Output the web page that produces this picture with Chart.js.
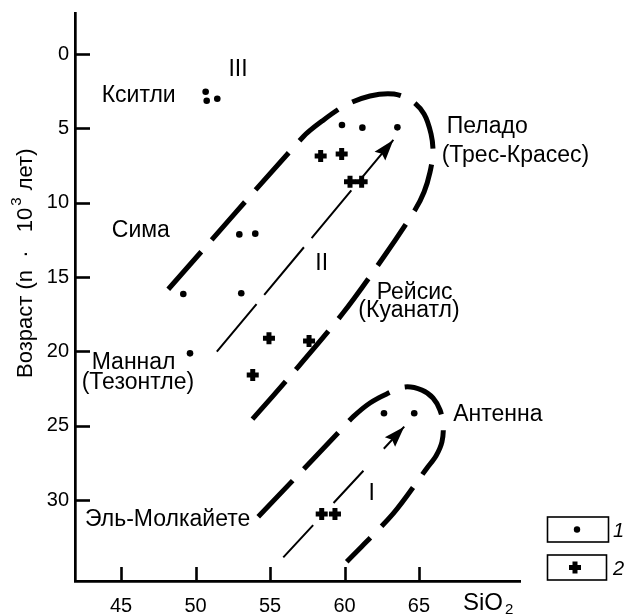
<!DOCTYPE html>
<html>
<head>
<meta charset="utf-8">
<script src="https://cdn.jsdelivr.net/npm/chart.js@4.4.1/dist/chart.umd.min.js"></script>
<style>
html,body{margin:0;padding:0;background:#fff;}
#wrap{width:628px;height:614px;}
canvas{display:block;}
</style>
</head>
<body>
<div id="wrap"><canvas id="c" width="628" height="614"></canvas></div>
<script>
// ---- data ----
const xTickValues = [45, 50, 55, 60, 65];
const yTickValues = [0, 5, 10, 15, 20, 25, 30];

// series 1 (dots)
const group1SiO2 = [50.68, 50.75, 51.46, 52.94, 54.01, 49.18, 53.07, 49.63, 59.83, 61.20, 63.55, 62.65, 64.68];
const group1Age  = [2.54, 3.14, 3.01, 12.13, 12.08, 16.14, 16.09, 20.13, 4.77, 4.95, 4.93, 24.16, 24.16];

// series 2 (crosses)
const group2SiO2 = [58.40, 59.81, 60.37, 61.15, 54.93, 57.62, 53.84, 58.47, 59.36];
const group2Age  = [6.86, 6.73, 8.59, 8.59, 19.12, 19.30, 21.59, 30.93, 30.93];

// envelope II (dashed outline)
const envelopeIISiO2 = [48.17, 57.23, 58.49, 60.03, 61.71, 63.32, 64.53, 65.34, 65.81, 65.94, 65.74, 65.34, 64.73, 62.58, 59.90, 56.54, 53.77];
const envelopeIIAge  = [15.82, 5.56, 4.51, 3.46, 2.82, 2.69, 3.16, 4.03, 5.38, 6.59, 7.94, 9.28, 10.49, 13.72, 17.42, 21.45, 24.61];

// envelope I (dashed outline)
const envelopeISiO2 = [54.21, 59.56, 60.59, 61.71, 62.83, 64.06, 65.20, 65.94, 66.41, 66.63, 66.54, 66.14, 65.54, 63.28, 60.15];
const envelopeIAge  = [31.12, 25.49, 24.39, 23.47, 22.86, 22.39, 22.60, 23.13, 23.94, 24.95, 26.09, 27.03, 27.84, 30.89, 34.14];

// trend arrows
const trendIISiO2 = [51.43, 63.28];
const trendIIAge  = [20.02, 5.78];
const trendISiO2  = [55.89, 64.01];
const trendIAge   = [33.85, 25.06];

// text
const placeNames = ['III', 'Кситли', 'Сима', 'Маннал', '(Тезонтле)', 'Эль-Молкайете', 'II',
                    'Пеладо', '(Трес-Красес)', 'Рейсис', '(Куанатл)', 'Антенна', 'I'];
const seriesNames = ['1', '2'];
const xTitle = 'SiO';
const xTitleSub = '2';
const yTitleMain = 'Возраст (n  ·   10';
const yTitleSup = '3';
const yTitleEnd = ' лет)';

// ---- layout (positions of annotations, in axis units) ----
const placeAnchors = [
  [52.85, 1.48, 'center'], [43.70, 3.25, 'left'], [44.38, 12.33, 'left'], [43.03, 21.20, 'left'],
  [42.36, 22.55, 'left'], [42.58, 31.74, 'left'], [58.47, 14.53, 'center'], [66.86, 5.33, 'left'],
  [66.52, 7.24, 'left'], [62.16, 16.50, 'left'], [60.93, 17.71, 'left'], [67.30, 24.68, 'left'],
  [61.83, 29.99, 'center']
];

const FONT = '"Liberation Sans", Arial, sans-serif';
const pts = (xs, ys) => xs.map((x, i) => ({ x: x, y: ys[i] }));

const overlay = {
  id: 'overlay',
  afterDraw(chart) {
    const ctx = chart.ctx;
    const xs = chart.scales.x, ys = chart.scales.y;
    const area = chart.chartArea;
    ctx.save();
    ctx.fillStyle = '#000';
    ctx.strokeStyle = '#000';
    // inward tick marks
    ctx.lineWidth = 2.6;
    ctx.lineCap = 'butt';
    yTickValues.forEach(v => {
      const py = Math.round(ys.getPixelForValue(v)) + 0.5;
      ctx.beginPath(); ctx.moveTo(area.left, py); ctx.lineTo(area.left + 15, py); ctx.stroke();
    });
    xTickValues.forEach(v => {
      const px = Math.round(xs.getPixelForValue(v)) + 0.5;
      ctx.beginPath(); ctx.moveTo(px, area.bottom); ctx.lineTo(px, area.bottom - 14); ctx.stroke();
    });
    // arrowheads at ends of trend lines
    chart.data.datasets.forEach((ds, di) => {
      if (!ds.arrow) return;
      const els = chart.getDatasetMeta(di).data;
      const a = els[els.length - 2], b = els[els.length - 1];
      const ang = Math.atan2(b.y - a.y, b.x - a.x);
      const L = 21, W = 7;
      ctx.save();
      ctx.translate(b.x, b.y); ctx.rotate(ang);
      ctx.beginPath(); ctx.moveTo(0, 0); ctx.lineTo(-L, -W); ctx.lineTo(-L + 3, 0); ctx.lineTo(-L, W); ctx.closePath();
      ctx.fill();
      ctx.restore();
    });
    // place labels
    ctx.font = '23px ' + FONT;
    ctx.textBaseline = 'alphabetic';
    placeNames.forEach((t, i) => {
      const an = placeAnchors[i];
      ctx.textAlign = an[2];
      ctx.fillText(t, xs.getPixelForValue(an[0]), ys.getPixelForValue(an[1]));
    });
    // x axis title
    ctx.textAlign = 'left';
    ctx.font = '24px ' + FONT;
    const tx = area.right - 57, ty = area.bottom + 29;
    ctx.fillText(xTitle, tx, ty);
    const tw = ctx.measureText(xTitle).width;
    ctx.font = '15px ' + FONT;
    ctx.fillText(xTitleSub, tx + tw + 2, ty + 4);
    // y axis title (rotated)
    ctx.save();
    ctx.translate(32, 378);
    ctx.rotate(-Math.PI / 2);
    ctx.font = '22px ' + FONT;
    ctx.fillText(yTitleMain, 0, 0);
    let w = ctx.measureText(yTitleMain).width + 2;
    ctx.font = '15px ' + FONT;
    ctx.fillText(yTitleSup, w, -11);
    w += ctx.measureText(yTitleSup).width + 1;
    ctx.font = '22px ' + FONT;
    ctx.fillText(yTitleEnd, w, 0);
    ctx.restore();
    // legend
    ctx.lineWidth = 1.6;
    const boxes = [[547.5, 517, 61, 25], [547.5, 555, 59, 25]];
    boxes.forEach(bx => ctx.strokeRect(bx[0], bx[1], bx[2], bx[3]));
    ctx.beginPath(); ctx.arc(577, 529.5, 3.2, 0, Math.PI * 2); ctx.fill();
    ctx.lineWidth = 5;
    ctx.beginPath(); ctx.moveTo(569, 567.5); ctx.lineTo(581, 567.5); ctx.moveTo(575, 561.5); ctx.lineTo(575, 573.5); ctx.stroke();
    ctx.font = 'italic 20px ' + FONT;
    ctx.fillText(seriesNames[0], 613, 537);
    ctx.fillText(seriesNames[1], 613, 575);
    ctx.restore();
  }
};

new Chart(document.getElementById('c'), {
  type: 'scatter',
  data: {
    datasets: [
      { label: 'II', data: pts(envelopeIISiO2, envelopeIIAge), showLine: true, borderColor: '#000', borderWidth: 5,
        borderDash: [50, 16], pointRadius: 0, tension: 0.3, fill: false },
      { label: 'I', data: pts(envelopeISiO2, envelopeIAge), showLine: true, borderColor: '#000', borderWidth: 5,
        borderDash: [50, 16], pointRadius: 0, tension: 0.3, fill: false },
      { label: 'trend II', data: pts(trendIISiO2, trendIIAge), showLine: true, borderColor: '#000', borderWidth: 2,
        borderDash: [62, 12], pointRadius: 0, arrow: true },
      { label: 'trend I', data: pts(trendISiO2, trendIAge), showLine: true, borderColor: '#000', borderWidth: 2,
        borderDash: [44, 30], pointRadius: 0, arrow: true },
      { label: seriesNames[0], data: pts(group1SiO2, group1Age), pointStyle: 'circle', pointRadius: 3.3,
        backgroundColor: '#000', borderWidth: 0 },
      { label: seriesNames[1], data: pts(group2SiO2, group2Age), pointStyle: 'cross', pointRadius: 6,
        borderColor: '#000', borderWidth: 5 }
    ]
  },
  options: {
    responsive: false,
    animation: false,
    devicePixelRatio: 1,
    events: [],
    layout: { padding: { left: 0, right: 108, top: 13, bottom: 0 } },
    plugins: { legend: { display: false }, tooltip: { enabled: false }, title: { display: false } },
    scales: {
      x: {
        type: 'linear', position: 'bottom', min: 41.91, max: 71.78,
        afterBuildTicks: s => { s.ticks = xTickValues.map(v => ({ value: v })); },
        afterFit: s => { s.height = 33; s.paddingLeft = 0; s.paddingRight = 0; },
        grid: { display: false, drawTicks: false },
        border: { display: true, color: '#000', width: 2.7 },
        ticks: { color: '#000', font: { family: FONT, size: 20 }, padding: 13, maxRotation: 0, autoSkip: false }
      },
      y: {
        type: 'linear', position: 'left', reverse: true, min: -2.76, max: 35.44,
        afterBuildTicks: s => { s.ticks = yTickValues.map(v => ({ value: v })); },
        afterFit: s => { s.width = 75; s.paddingTop = 0; s.paddingBottom = 0; },
        grid: { display: false, drawTicks: false },
        border: { display: true, color: '#000', width: 2.7 },
        ticks: { color: '#000', font: { family: FONT, size: 20 }, padding: 6, autoSkip: false }
      }
    }
  },
  plugins: [overlay]
});
</script>
</body>
</html>
